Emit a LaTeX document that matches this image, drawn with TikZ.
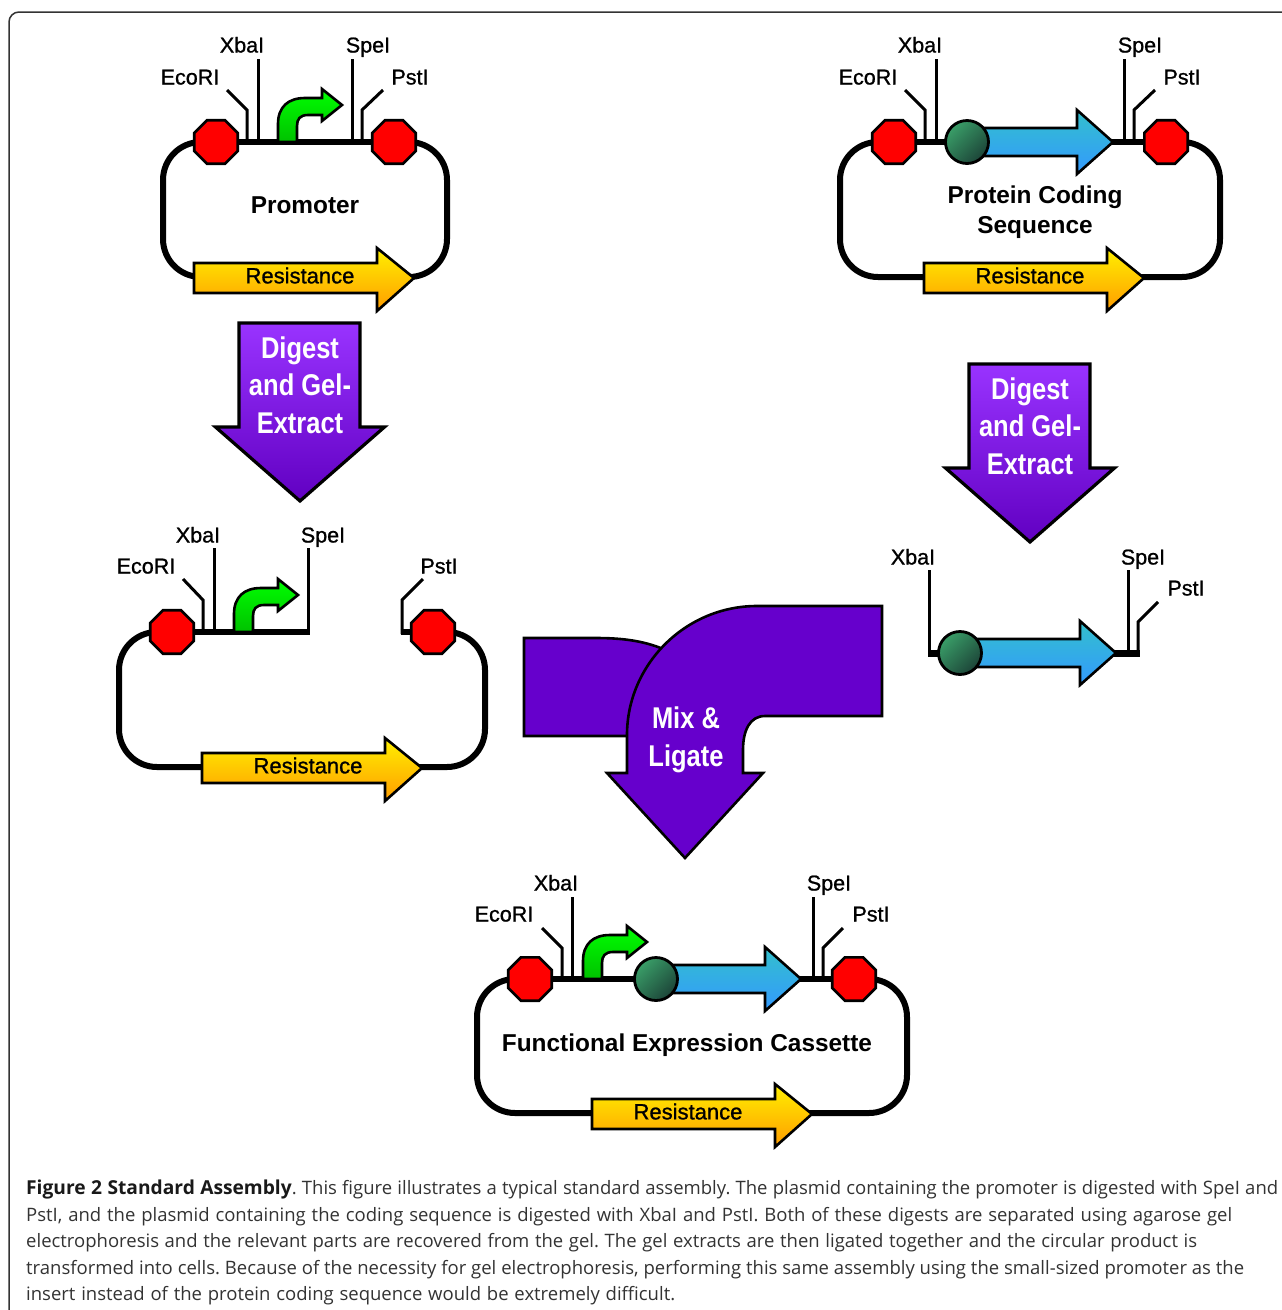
\documentclass[tikz,border=0pt]{standalone}
\usepackage{fontspec}
\setmainfont{Liberation Sans}
\newfontfamily\capfont{Open Sans}
\newfontfamily\labfont{Liberation Sans}[FakeBold=1]
\usetikzlibrary{shapes.geometric,backgrounds}
\definecolor{purp}{HTML}{6600CC}
\definecolor{purplight}{HTML}{9933FF}
\definecolor{oriA}{HTML}{3A9E68}
\definecolor{oriB}{HTML}{1C4438}
\definecolor{cdsA}{HTML}{33C0CC}
\definecolor{cdsB}{HTML}{3399FF}
\definecolor{resA}{HTML}{FFF000}
\definecolor{resB}{HTML}{FF9C00}
\tikzset{
  wire/.style={line width=5.5pt,line join=round},
  loopwire/.style={line width=6pt,rounded corners=38pt},
  fatwire/.style={line width=7pt},
  tick/.style={line width=3pt,line join=miter},
  site/.style={font=\fontsize{21.5}{24}\labfont,inner sep=0pt,anchor=base,yshift=-7.5pt},
  octa/.style={regular polygon,regular polygon sides=8,minimum size=47pt,inner sep=0pt,draw=black,line width=2.6pt,fill=red},
  origin/.style={circle,minimum size=43pt,inner sep=0pt,draw=black,line width=2.8pt,shading=axis,top color=oriA,bottom color=oriB,shading angle=45},
  resarrow/.style={draw=black,line width=2.6pt,line join=miter,top color=resA,bottom color=resB},
  cdsarrow/.style={draw=black,line width=2.6pt,line join=miter,top color=cdsA,bottom color=cdsB},
  promarrow/.style={draw=black,line width=2.6pt,line join=miter,top color=green,bottom color=green!76!black},
  digarrow/.style={draw=black,line width=3.2pt,line join=miter,top color=purplight,bottom color=purp!95!black},
  mixarrow/.style={draw=black,line width=2.6pt,line join=miter,fill=purp},
  reslabel/.style={font=\fontsize{22}{24}\labfont,inner sep=0pt},
  boldlabel/.style={font=\fontsize{24.4}{30}\bfseries,inner sep=0pt,align=center},
  steplabel/.style={font=\fontsize{30}{37.5}\bfseries,text=white,inner sep=0pt,align=center,xscale=.85},
}
% resistance arrow: x and y offset from the first plasmid, node name, label x
\newcommand{\resist}[4]{%
  \begin{scope}[shift={(#1,#2)}]
    \path[resarrow] (194,263) -- (377,263) -- (377,248) -- (414,278) -- (377,311) -- (377,293) -- (194,293) -- cycle;
  \end{scope}
  \node[reslabel] (#3) at (#4,#2+275.5) {Resistance};}
% promoter bent arrow
\newcommand{\prom}[2]{%
  \begin{scope}[shift={(#1,#2)}]
    \path[promarrow] (278,142) -- (278,124) .. controls (278,107) and (288,98) .. (305,98) -- (322,98) -- (322,89) -- (342,105) -- (322,121) -- (322,115) -- (308,115) .. controls (300,115) and (297,119) .. (297,126) -- (297,142) -- cycle;
  \end{scope}}
% coding sequence arrow: circle x, arrowhead base x, tip x, y, node name
\newcommand{\cds}[5]{%
  \path[cdsarrow] (#1,#4-14) -- (#2,#4-14) -- (#2,#4-32) -- (#3,#4) -- (#2,#4+32) -- (#2,#4+14) -- (#1,#4+14) -- cycle;
  \node[origin] (#5) at (#1,#4) {};}
% purple process arrow
\newcommand{\digest}[3]{%
  \begin{scope}[shift={(#1,#2)}]
    \path[digarrow] (239,323) -- (360,323) -- (360,427) -- (384.5,427) -- (300,501) -- (215.5,427) -- (239,427) -- cycle;
    \node[steplabel] (#3) at (300,385) {Digest\\and Gel-\\Extract};
  \end{scope}}
\newcommand{\capline}[2]{\makebox[#1pt][s]{#2}}
\begin{document}
\begin{tikzpicture}[x=1pt,y=-1pt]
\useasboundingbox (0,0) rectangle (1282,1310);
\begin{scope}[on background layer]
\fill[white] (0,0) rectangle (1282,1310);
\end{scope}
% frame
\coordinate (frameA) at (1282,12);
\coordinate (frameB) at (9,12);
\coordinate (frameC) at (9,1310);
\draw[black!80,line width=1.5pt,rounded corners=10pt] (frameA) -- (frameB) -- (frameC);

% ---------- Promoter plasmid
\node[octa] (a1) at (216,142) {};
\node[octa] (a2) at (394,142) {};
\begin{scope}[on background layer]
\draw[wire] (a1) -- (a2);
\draw[loopwire] (a1.center) -- (163,142) -- (163,277) -- (447,277) -- (447,142) -- (a2.center);
\end{scope}
\node[site] (aE) at (190,77) {EcoRI};
\node[site] (aX) at (242,45) {XbaI};
\node[site] (aS) at (368,45) {SpeI};
\node[site] (aP) at (410,77) {PstI};
\draw[tick] (247,142) -- (247,110) -- (227,90);
\draw[tick] (258,142) -- (258,59);
\draw[tick] (352,142) -- (352,59);
\draw[tick] (362,142) -- (362,110) -- (383,90);
\prom{0}{0}
\resist{0}{0}{aR}{300}
\node[boldlabel] (aT) at (305,205) {Promoter};

% ---------- Coding sequence plasmid
\node[octa] (b1) at (894,142) {};
\node[octa] (b2) at (1166,142) {};
\begin{scope}[on background layer]
\draw[wire] (b1) -- (b2);
\draw[loopwire] (b1.center) -- (840,142) -- (840,277) -- (1220,277) -- (1220,142) -- (b2.center);
\end{scope}
\node[site] (bE) at (868,77) {EcoRI};
\node[site] (bX) at (920,45) {XbaI};
\node[site] (bS) at (1140,45) {SpeI};
\node[site] (bP) at (1182,77) {PstI};
\draw[tick] (925,142) -- (925,110) -- (905,90);
\draw[tick] (936,142) -- (936,59);
\draw[tick] (1124,142) -- (1124,59);
\draw[tick] (1134,142) -- (1134,110) -- (1155,90);
\cds{967}{1077}{1113}{142}{bC}
\resist{730}{0}{bR}{1030}
\node[boldlabel] (bT) at (1035,212) {Protein Coding\\Sequence};

% ---------- Digest arrows
\digest{0}{0}{d1}
\digest{730}{41}{d2}

% ---------- Opened promoter plasmid
\node[octa] (c1) at (172,632) {};
\node[octa] (c2) at (433,632) {};
\coordinate (cEnd) at (309.5,632);
\coordinate (pEnd) at (400.5,632);
\begin{scope}[on background layer]
\draw[wire] (c1) -- (cEnd);
\draw[wire] (pEnd) -- (c2);
\draw[loopwire] (c1.center) -- (119,632) -- (119,767) -- (485,767) -- (485,632) -- (c2.center);
\end{scope}
\node[site] (cE) at (146,566) {EcoRI};
\node[site] (cX) at (198,535) {XbaI};
\node[site] (cS) at (323,535) {SpeI};
\node[site] (cP) at (439,566) {PstI};
\draw[tick] (203,632) -- (203,600) -- (183,579);
\draw[tick] (214,632) -- (214,548);
\draw[tick] (308,634) -- (308,548);
\draw[tick] (402,634) -- (402,600) -- (423,579);
\prom{-44}{490}
\resist{8}{490}{cR}{308}

% ---------- Fragment
\coordinate (fL) at (928,653);
\coordinate (fR) at (1140,653);
\draw[fatwire] (fL) -- (fR);
\draw[tick] (929,655) -- (929,570);
\draw[tick] (1128,655) -- (1128,570);
\draw[tick] (1138,655) -- (1138,622) -- (1158,602);
\node[site] (fX) at (913,557) {XbaI};
\node[site] (fS) at (1143,557) {SpeI};
\node[site] (fP) at (1186,588) {PstI};
\cds{960}{1080}{1116}{653}{fC}

% ---------- Mix & Ligate
\path[mixarrow] (524,638) -- (595,638) .. controls (620,638) and (645,640) .. (670,652) -- (640,736) -- (524,736) -- cycle;
\path[mixarrow] (882,606) -- (882,716) -- (765,716) .. controls (750,716) and (743,730) .. (743,750) -- (743,773) -- (763,773) -- (685,858) -- (607,773) -- (627,773) -- (627,735) .. controls (627,665) and (685,606) .. (757,606) -- cycle;
\node[steplabel] (mT) at (686,740) {Mix \&\\Ligate};

% ---------- Functional cassette
\node[octa] (e1) at (530,979) {};
\node[octa] (e2) at (854,979) {};
\begin{scope}[on background layer]
\draw[wire] (e1) -- (e2);
\draw[loopwire] (e1.center) -- (477,979) -- (477,1113) -- (907,1113) -- (907,979) -- (e2.center);
\end{scope}
\node[site] (eE) at (504,914) {EcoRI};
\node[site] (eX) at (556,883) {XbaI};
\node[site] (eS) at (829,883) {SpeI};
\node[site] (eP) at (871,914) {PstI};
\draw[tick] (562,979) -- (562,948) -- (542,928);
\draw[tick] (572,979) -- (572,897);
\draw[tick] (813,979) -- (813,897);
\draw[tick] (823,979) -- (823,948) -- (843,928);
\prom{305}{837}
\cds{656}{765}{801}{979}{eC}
\resist{398}{836}{eR}{688}
\node[boldlabel] (eT) at (687,1045) {Functional Expression Cassette};

% ---------- Caption
\node[anchor=north west,inner sep=0pt,align=left,text=black!80,font=\fontsize{18.5}{26.4}\selectfont\capfont\frenchspacing] (cap) at (26,1180) {\capline{1252}{{\fontsize{19.2}{26.4}\selectfont\bfseries\color{black!90} Figure 2 Standard Assembly}. This figure illustrates a typical standard assembly. The plasmid containing the promoter is digested with SpeI and}\\\capline{1206}{PstI, and the plasmid containing the coding sequence is digested with XbaI and PstI. Both of these digests are separated using agarose gel}\\\capline{1171}{electrophoresis and the relevant parts are recovered from the gel. The gel extracts are then ligated together and the circular product is}\\\capline{1218}{transformed into cells. Because of the necessity for gel electrophoresis, performing this same assembly using the small-sized promoter as the}\\\capline{649}{insert instead of the protein coding sequence would be extremely difficult.}};
\end{tikzpicture}
\end{document}
